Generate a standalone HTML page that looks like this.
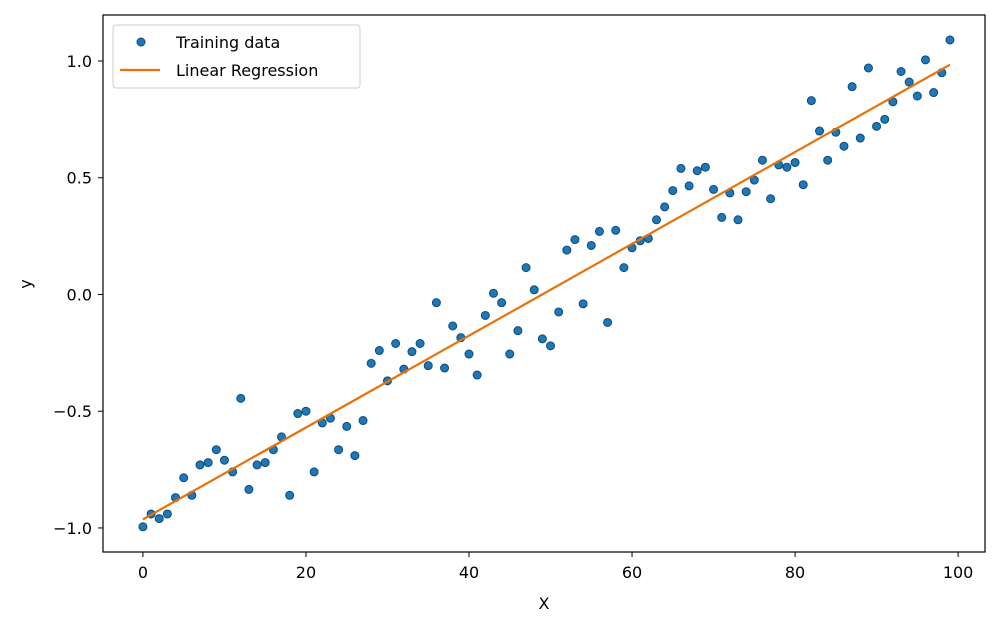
<!DOCTYPE html>
<html><head><meta charset="utf-8"><style>
body{margin:0;background:#fff;}
svg{display:block;font-family:"DejaVu Sans","Liberation Sans",sans-serif;}
</style></head><body>
<svg id="chart" width="1000" height="626" viewBox="0 0 1000 626">
<rect x="0" y="0" width="1000" height="626" fill="#fff"/>
<g id="plot"></g>
</svg>
<script>
const xValues=[];for(let i=0;i<100;i++)xValues.push(i);
const yValues=[-0.995,-0.94,-0.96,-0.94,-0.87,-0.785,-0.86,-0.73,-0.72,-0.665,
-0.71,-0.76,-0.445,-0.835,-0.73,-0.72,-0.665,-0.61,-0.86,-0.51,
-0.50,-0.76,-0.55,-0.53,-0.665,-0.565,-0.69,-0.54,-0.295,-0.24,
-0.37,-0.21,-0.32,-0.245,-0.21,-0.305,-0.035,-0.315,-0.135,-0.185,
-0.255,-0.345,-0.09,0.005,-0.035,-0.255,-0.155,0.115,0.02,-0.19,
-0.22,-0.075,0.19,0.235,-0.04,0.21,0.27,-0.12,0.275,0.115,
0.2,0.23,0.24,0.32,0.375,0.445,0.54,0.465,0.53,0.545,
0.45,0.33,0.435,0.32,0.44,0.49,0.575,0.41,0.555,0.545,
0.565,0.47,0.83,0.70,0.575,0.695,0.635,0.89,0.67,0.97,
0.72,0.75,0.825,0.955,0.91,0.85,1.005,0.865,0.95,1.09];
const xTicks=[0,20,40,60,80,100];
const yTicks=[-1.0,-0.5,0.0,0.5,1.0];
const yTickLabels=["\u22121.0","\u22120.5","0.0","0.5","1.0"];

const L=103,T=15,R=985,B=552;
const xMin=-4.9,xMax=103.3,yMin=-1.103,yMax=1.197;
const sx=v=>L+(v-xMin)/(xMax-xMin)*(R-L);
const sy=v=>B-(v-yMin)/(yMax-yMin)*(B-T);
const NS="http://www.w3.org/2000/svg";
const g=document.getElementById('plot');
function mk(tag,attrs,parent){const e=document.createElementNS(NS,tag);for(const k in attrs)e.setAttribute(k,attrs[k]);(parent||g).appendChild(e);return e;}

// points
const pts=mk('g',{});


xValues.forEach((x,i)=>{
 const c=mk('circle',{cx:sx(x),cy:sy(yValues[i]),r:4,fill:'#1f77b4',stroke:'#0d4a80','stroke-width':1},pts);
 
 
});
// regression
const n=xValues.length;let mx=0,my=0;xValues.forEach((x,i)=>{mx+=x;my+=yValues[i];});mx/=n;my/=n;
let sxy=0,sxx=0;xValues.forEach((x,i)=>{sxy+=(x-mx)*(yValues[i]-my);sxx+=(x-mx)*(x-mx);});
const slope=sxy/sxx,icpt=my-slope*mx;
const x0=xValues[0],x1=xValues[n-1];
const ln=mk('line',{x1:sx(x0),y1:sy(icpt+slope*x0),x2:sx(x1),y2:sy(icpt+slope*x1),stroke:'#e8710a','stroke-width':2.2});


// frame
const fr=mk('rect',{x:L,y:T,width:R-L,height:B-T,fill:'none',stroke:'#000','stroke-width':1.2});


// ticks
xTicks.forEach(t=>{
 mk('line',{x1:sx(t),y1:B,x2:sx(t),y2:B+5,stroke:'#000','stroke-width':1});
 const tx=mk('text',{x:sx(t),y:B+26,'text-anchor':'middle','font-size':16,fill:'#000'});
 tx.textContent=t;
 
 
});
yTicks.forEach((t,i)=>{
 mk('line',{x1:L-5,y1:sy(t),x2:L,y2:sy(t),stroke:'#000','stroke-width':1});
 const tx=mk('text',{x:L-11,y:sy(t)+6,'text-anchor':'end','font-size':16,fill:'#000'});
 tx.textContent=yTickLabels[i];
 
 
});
const xl=mk('text',{x:(L+R)/2,y:609,'text-anchor':'middle','font-size':16});xl.textContent='X';


const yl=mk('text',{x:0,y:0,'text-anchor':'middle','font-size':16,transform:'translate(31,284) rotate(-90)'});yl.textContent='y';


// legend
const lg=mk('g',{});


mk('rect',{x:113,y:25,width:247,height:63,rx:3,fill:'#fff',stroke:'#ccc','stroke-width':1},lg);
mk('circle',{cx:141,cy:42,r:4,fill:'#1f77b4',stroke:'#0d4a80'},lg);
const t1=mk('text',{x:176,y:48,'font-size':16},lg);t1.textContent='Training data';


mk('line',{x1:120,y1:70,x2:160,y2:70,stroke:'#e8710a','stroke-width':2.2},lg);
const t2=mk('text',{x:176,y:76,'font-size':16},lg);t2.textContent='Linear Regression';


</script>
</body></html>
